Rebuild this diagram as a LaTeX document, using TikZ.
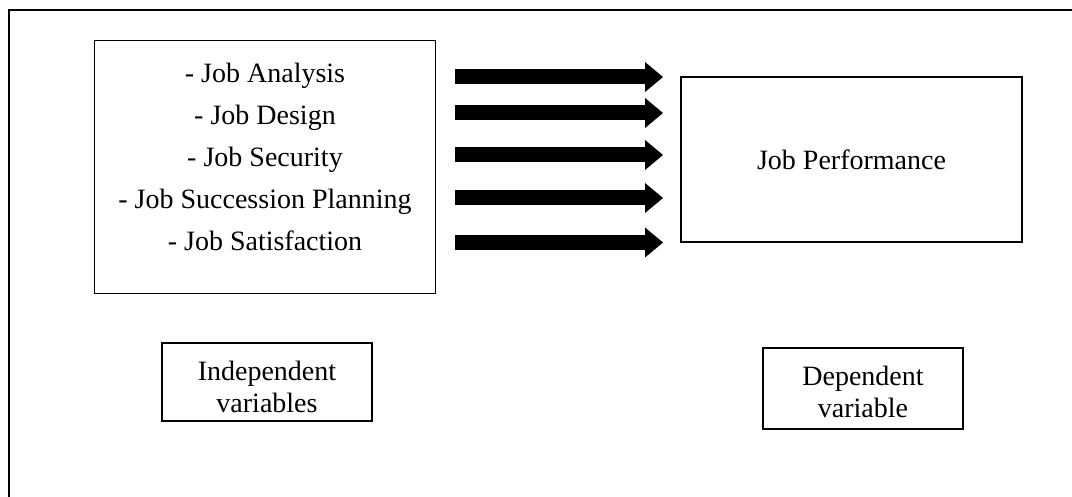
\documentclass[tikz,border=0pt]{standalone}
\usepackage{fontspec}
\setmainfont{Liberation Serif}
\usetikzlibrary{arrows.meta}

\tikzset{
    varbox/.style={draw, line width=1.5pt, inner sep=0pt},
    itemtext/.style={inner sep=0pt, text height=19pt, text depth=5pt},
    labeltext/.style={inner sep=0pt, align=center},
    fatarrow/.style={line width=15pt, -{Triangle[length=18pt, width=30pt, line width=0pt]}},
}

\begin{document}
\begin{tikzpicture}[x=1pt, y=-1pt, font=\fontsize{28}{32}\selectfont]
        \useasboundingbox (0,0) rectangle (1072,497);
        \coordinate (fb) at (9,497);
        \coordinate (fc) at (9,10);
        \coordinate (fr) at (1072,10);
        \draw[line width=2pt] (fb) -- (fc) -- (fr);

        \node[varbox, minimum width=341pt, minimum height=253pt] (ivbox) at (265,167) {};
        \foreach \name [count=\i] in {Job Analysis, Job Design, Job Security, Job Succession Planning, Job Satisfaction}
            \node[itemtext] (item\i) at (265,34+42*\i) {- \name};

        \node[varbox, minimum width=341pt, minimum height=165pt] (dvbox) at (851.5,159.5) {Job Performance};

        \foreach \y [count=\i] in {77,113,155,198,242.5} {
            \coordinate (s\i) at (455,\y);
            \coordinate (t\i) at (663,\y);
            \draw[fatarrow] (s\i) -- (t\i);
        }

        \node[varbox, minimum width=210pt, minimum height=78pt] (ivlabel) at (267,382) {};
        \node[labeltext] (ivtext) at ([yshift=-5pt]ivlabel.center) {Independent\\variables};
        \node[varbox, minimum width=200pt, minimum height=81pt] (dvlabel) at (863,388.5) {};
        \node[labeltext] (dvtext) at ([yshift=-3pt]dvlabel.center) {Dependent\\variable};
    \end{tikzpicture}
\end{document}
